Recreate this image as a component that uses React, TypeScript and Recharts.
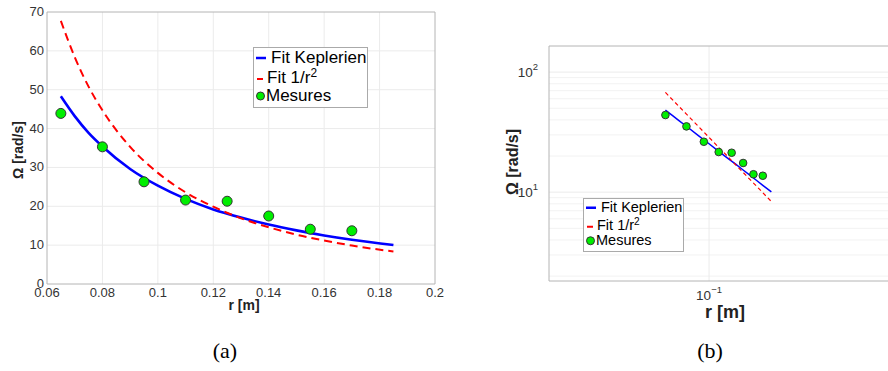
import { ComposedChart, Line, Scatter, XAxis, YAxis, ReferenceLine } from "recharts";

// measured points
const rMes = [0.065, 0.08, 0.095, 0.11, 0.125, 0.14, 0.155, 0.17];
const omegaMes = [43.9, 35.3, 26.3, 21.6, 21.3, 17.5, 14.1, 13.7];

// fitted curves
const rFit = [0.065, 0.07, 0.075, 0.08, 0.09, 0.1, 0.11, 0.12, 0.13, 0.14, 0.15, 0.16, 0.17, 0.185];
const omegaKepler = [48.3, 43.2, 38.9, 35.4, 29.6, 25.3, 21.9, 19.2, 17.1, 15.3, 13.8, 12.5, 11.4, 10.05];
const omegaInvSq = [67.7, 58.4, 50.8, 44.7, 35.3, 28.6, 23.6, 19.9, 16.9, 14.6, 12.7, 11.2, 9.9, 8.36];

const linXTicks = [0.06, 0.08, 0.1, 0.12, 0.14, 0.16, 0.18, 0.2];
const linXLabels = ["0.06", "0.08", "0.1", "0.12", "0.14", "0.16", "0.18", "0.2"];
const linYTicks = [0, 10, 20, 30, 40, 50, 60, 70];

const logXDomain = [0.0206, 0.585];
const logYDomain = [1.82, 165];
const logXTicks = [0.1];
const logYTicks = [10, 100];
const logYMinor = [2, 3, 4, 5, 6, 7, 8, 9, 20, 30, 40, 50, 60, 70, 80, 90];

const mesData = rMes.map((r, i) => ({ r, w: omegaMes[i] }));
const fitData = rFit.map((r, i) => ({ r, kep: omegaKepler[i], inv: omegaInvSq[i] }));

const FONT = "'Liberation Sans', Arial, sans-serif";
const TICK = "#333";
const BOX = "#b4b4b4";
const GRID = "#ebebeb";
const GREEN = "#00ee00";

const LinXTick = ({ x, y, payload }: any) => {
  const i = linXTicks.indexOf(payload.value);
  return (
    <text x={x} y={y + 13} textAnchor="middle" fontSize={13} fill={TICK} fontFamily={FONT}>
      {i >= 0 ? linXLabels[i] : payload.value}
    </text>
  );
};

const LinYTick = ({ x, y, payload }: any) => (
  <text x={x - 3} y={y + 4} textAnchor="end" fontSize={13} fill={TICK} fontFamily={FONT}>
    {payload.value}
  </text>
);

const LogXTick = ({ x, y, payload }: any) => {
  const e = Math.round(Math.log10(payload.value));
  return (
    <text x={x} y={y + 19} textAnchor="middle" fontSize={13.5} fill={TICK} fontFamily={FONT}>
      <tspan>10</tspan>
      <tspan dy={-7} fontSize={9.5}>{e < 0 ? "\u2212" + -e : e}</tspan>
    </text>
  );
};

const LogYTick = ({ x, y, payload }: any) => {
  const e = Math.round(Math.log10(payload.value));
  return (
    <text x={x - 11} y={y + 5} textAnchor="end" fontSize={13.5} fill={TICK} fontFamily={FONT}>
      <tspan>10</tspan>
      <tspan dy={-7} fontSize={9.5}>{e}</tspan>
    </text>
  );
};

// axis title drawn at a fixed spot of the panel
const Title = ({ ax, ay, size, text, rotate }: any) => (
  <text
    x={ax}
    y={ay}
    textAnchor="middle"
    dominantBaseline="central"
    fontSize={size}
    fontWeight="bold"
    fill="#222"
    fontFamily={FONT}
    transform={rotate ? `rotate(-90 ${ax} ${ay})` : undefined}
  >
    {text}
  </text>
);

const Dot = (r: number) => (p: any) => (
  <circle cx={p.cx} cy={p.cy} r={r} fill={GREEN} stroke="#333" strokeWidth={1} />
);

function LegendBox({ left, top, width, fontSize, rowH }: any) {
  const row = { display: "flex", alignItems: "center", height: rowH, lineHeight: rowH + "px" };
  return (
    <div
      style={{
        position: "absolute",
        left,
        top,
        width,
        background: "#fff",
        border: "1px solid #aaa",
        fontFamily: FONT,
        fontSize,
        color: "#000",
        padding: "1px 0 2px 1px",
      }}
    >
      <div style={row}>
        <svg width={14} height={rowH}>
          <line x1={1} x2={11} y1={rowH / 2} y2={rowH / 2} stroke="#0000ff" strokeWidth={2.5} />
        </svg>
        <span style={{ marginLeft: 2 }}>Fit Keplerien</span>
      </div>
      <div style={{ ...row, paddingTop: 2 }}>
        <svg width={12} height={rowH}>
          <line x1={2} x2={8} y1={rowH / 2 + 1} y2={rowH / 2 + 1} stroke="#ff0000" strokeWidth={2} />
        </svg>
        <span>
          Fit 1/r<sup style={{ fontSize: fontSize * 0.7, verticalAlign: "top", lineHeight: "8px" }}>2</sup>
        </span>
      </div>
      <div style={row}>
        <svg width={11} height={rowH}>
          <circle cx={5.5} cy={rowH / 2} r={4} fill={GREEN} stroke="#333" />
        </svg>
        <span>Mesures</span>
      </div>
    </div>
  );
}

function LinearPanel() {
  return (
    <ComposedChart width={450} height={320} margin={{ top: 12, right: 15, bottom: 0, left: 0 }}>
      <XAxis
        type="number"
        dataKey="r"
        domain={[0.06, 0.2]}
        ticks={linXTicks}
        tick={<LinXTick />}
        tickSize={0}
        tickMargin={0}
        height={36}
        stroke={BOX}
        allowDataOverflow
        label={<Title ax={244} ay={305} size={14} text="r [m]" />}
      />
      <YAxis
        type="number"
        domain={[0, 70]}
        ticks={linYTicks}
        tick={<LinYTick />}
        tickSize={0}
        tickMargin={0}
        width={47}
        stroke={BOX}
        allowDataOverflow
        label={<Title ax={18} ay={150} size={14} text="Ω [rad/s]" rotate />}
      />
      {linXTicks.slice(1, -1).map((v) => (
        <ReferenceLine key={"gx" + v} x={v} stroke={GRID} />
      ))}
      {linYTicks.slice(1, -1).map((v) => (
        <ReferenceLine key={"gy" + v} y={v} stroke={GRID} />
      ))}
      <ReferenceLine x={0.2} stroke={BOX} />
      <ReferenceLine y={70} stroke={BOX} />
      <Line data={fitData} dataKey="kep" type="monotone" stroke="#0000ff" strokeWidth={2.6} dot={false} isAnimationActive={false} />
      <Line
        data={fitData}
        dataKey="inv"
        type="monotone"
        stroke="#ff0000"
        strokeWidth={2}
        strokeDasharray="8 5"
        dot={false}
        isAnimationActive={false}
      />
      <Scatter data={mesData} dataKey="w" shape={Dot(5)} isAnimationActive={false} />
    </ComposedChart>
  );
}

function LogPanel() {
  return (
    <ComposedChart width={398} height={330} margin={{ top: 46, right: 0, bottom: 0, left: 0 }}>
      <XAxis
        type="number"
        dataKey="r"
        scale="log"
        domain={logXDomain}
        ticks={logXTicks}
        tick={<LogXTick />}
        tickSize={0}
        tickMargin={0}
        height={49}
        stroke={BOX}
        allowDataOverflow
        label={<Title ax={235} ay={312} size={18} text="r [m]" />}
      />
      <YAxis
        type="number"
        scale="log"
        domain={logYDomain}
        ticks={logYTicks}
        tick={<LogYTick />}
        tickSize={0}
        tickMargin={0}
        width={59}
        stroke={BOX}
        allowDataOverflow
        label={<Title ax={22} ay={162} size={16} text="Ω [rad/s]" rotate />}
      />
      {logYMinor.map((v) => (
        <ReferenceLine key={"m" + v} y={v} stroke="#f2f2f2" />
      ))}
      {logYTicks.map((v) => (
        <ReferenceLine key={"M" + v} y={v} stroke={GRID} />
      ))}
      {logXTicks.map((v) => (
        <ReferenceLine key={"X" + v} x={v} stroke={GRID} />
      ))}
      <ReferenceLine y={logYDomain[1]} stroke={BOX} />
      <Line data={fitData} dataKey="kep" type="linear" stroke="#0000ff" strokeWidth={1.5} dot={false} isAnimationActive={false} />
      <Line
        data={fitData}
        dataKey="inv"
        type="linear"
        stroke="#ff0000"
        strokeWidth={1.2}
        strokeDasharray="4 3"
        dot={false}
        isAnimationActive={false}
      />
      <Scatter data={mesData} dataKey="w" shape={Dot(3.8)} isAnimationActive={false} />
    </ComposedChart>
  );
}

export default function App() {
  const cap = {
    position: "absolute" as const,
    top: 338,
    fontFamily: "'Liberation Serif', 'DejaVu Serif', serif",
    fontSize: 22,
    width: 60,
    textAlign: "center" as const,
  };
  return (
    <div style={{ position: "absolute", left: 0, top: 0, width: 888, height: 371, background: "#fff", overflow: "hidden" }}>
      <div style={{ position: "absolute", left: 0, top: 0 }}>
        <LinearPanel />
      </div>
      <div style={{ position: "absolute", left: 490, top: 0 }}>
        <LogPanel />
      </div>
      <LegendBox left={253} top={47} width={112} fontSize={17} rowH={18} />
      <LegendBox left={583} top={198} width={98} fontSize={14.5} rowH={15.5} />
      <div style={{ ...cap, left: 195 }}>(a)</div>
      <div style={{ ...cap, left: 680 }}>(b)</div>
    </div>
  );
}
